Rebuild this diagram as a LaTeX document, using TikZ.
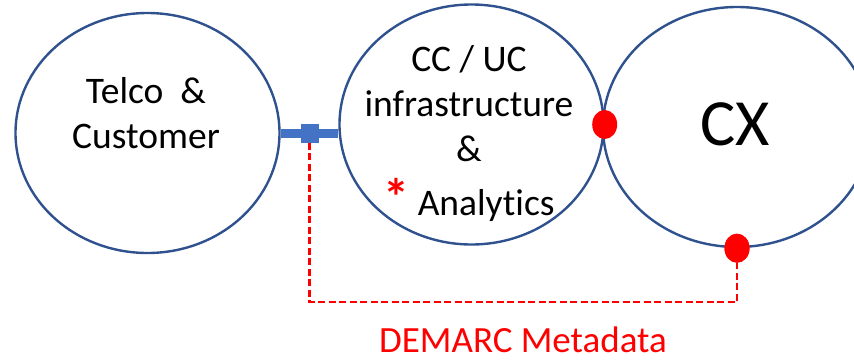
\documentclass[tikz,border=0pt]{standalone}
\usepackage{fontspec}
\setmainfont{Carlito}[Ligatures=CommonOff]
\usetikzlibrary{shapes.geometric, calc}

\definecolor{ringblue}{HTML}{2F528F}
\definecolor{linkblue}{HTML}{4472C4}
\definecolor{tapred}{HTML}{FF0000}

\begin{document}
\begin{tikzpicture}[x=1pt, y=-1pt,
	ring/.style={ellipse, draw=ringblue, line width=2.4pt, inner sep=0pt, minimum width=264pt, minimum height=240pt},
	dot/.style={ellipse, fill=tapred, inner sep=0pt, minimum width=25pt, minimum height=29pt},
	words/.style={font=\fontsize{37.5}{45}\selectfont, align=center, inner sep=0pt, anchor=base}]
	\useasboundingbox (0,0) rectangle (854,359);
	\clip (0,0) rectangle (854,359);
	
	% Drawing the rings
	\node[ring] (telco) at (147.5,133) {};
	\node[ring] (ccuc) at (471.5,124.5) {};
	\node[ring, minimum width=268pt] (cx) at (737,127) {};
	
	% Drawing the texts
	\node[words] (telcotxt) at (146,148) {Telco\ \ \&\\Customer};
	\node[words] (ccuctxt) at (469,215) {CC / UC\\infrastructure\\\&\\[9pt]{\color{tapred}\fontsize{52}{45}\selectfont\textbf{*}} Analytics};
	\node[font=\fontsize{66}{70}\selectfont, inner sep=0pt, anchor=base] (cxtxt) at (735,145) {CX};
	
	% Drawing the link and the tap
	\coordinate (link end) at (telco.east -| ccuc.west);
	\draw[linkblue, line width=9pt] (telco.east) -- (link end);
	\node[fill=linkblue, inner sep=0pt, minimum width=18pt, minimum height=19pt] (tap) at ($(telco.east)!0.5!(link end)$) {};
	
	% Drawing the metadata path
	\node[dot] (cxdot) at (cx.south) {};
	\coordinate (corner) at (tap |- 0,302);
	\draw[tapred, line width=2.2pt, dash pattern=on 7pt off 3.5pt] (tap.south) -- (corner) -| (cxdot.south);
	\node[dot] (ccucdot) at (ccuc.east) {};
	\node[dot] at (cxdot) {};
	\node[font=\fontsize{37}{40}\selectfont, text=tapred, inner sep=0pt, anchor=base] (metatxt) at (523,352) {DEMARC Metadata};
\end{tikzpicture}
\end{document}
